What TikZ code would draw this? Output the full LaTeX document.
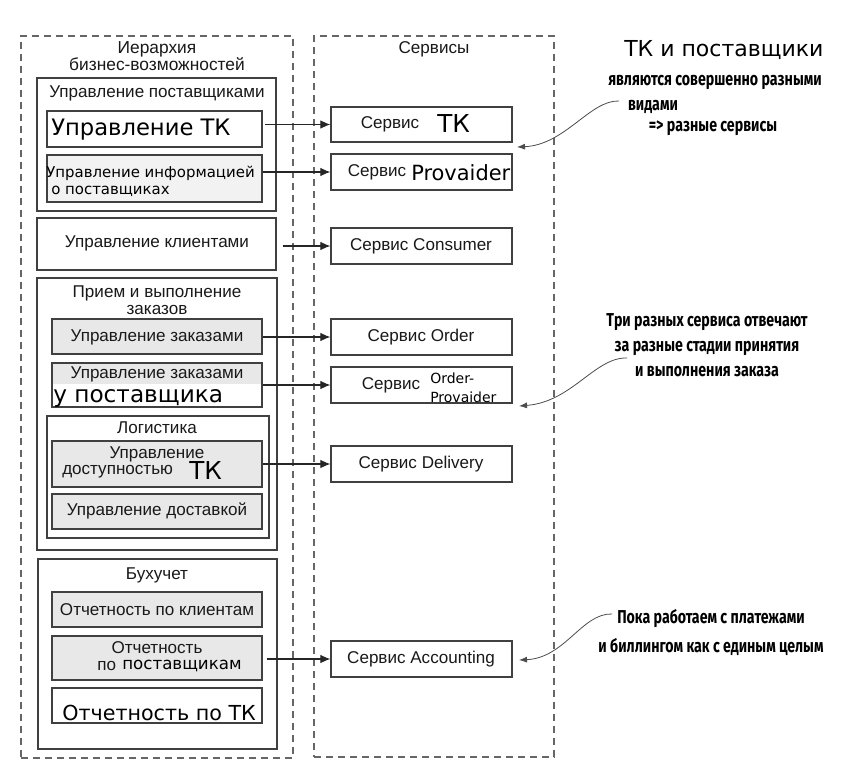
\documentclass[tikz,border=0pt]{standalone}
\usepackage{fontspec}
\setmainfont{Liberation Sans}
\newfontfamily\dvfont{DejaVu Sans}
\newfontfamily\annfont[FakeStretch=0.76]{Fira Sans}
\usetikzlibrary{arrows.meta,fit}
\begin{document}
\begin{tikzpicture}[x=0.75pt,y=-0.75pt,
  box/.style={draw=black!75, line width=1pt, inner sep=0pt},
  graybox/.style={box, fill=black!9},
  container/.style={draw=black!60, line width=0.8pt, dash pattern=on 5pt off 4pt, inner sep=0pt},
  lbl/.style={font=\fontsize{12.8}{12.8}\selectfont, text=black!90, inner sep=0pt},
  big/.style={font=\dvfont\fontsize{17}{19}\selectfont, text=black, inner sep=0pt},
  mid/.style={font=\dvfont\fontsize{11.2}{13.5}\selectfont, text=black, inner sep=0pt},
  note/.style={font=\annfont\bfseries\fontsize{14}{18.75}\selectfont, text=black, inner sep=0pt, align=center},
  conn/.style={-{Latex[length=7.5pt,width=6.5pt]}, line width=0.8pt, draw=black!85},
  notearrow/.style={-{Latex[length=6pt,width=4.5pt]}, line width=0.6pt, draw=black!70},
]
\fill[white] (0,0) rectangle (851,774);
\useasboundingbox (0,0) rectangle (851,774);

% containers
\node[container, fit={(21,36) (293,758)}] (hier) {};
\node[container, fit={(314,36) (554,757)}] (svc) {};
\node[lbl, align=center, font=\fontsize{13}{12.8}\selectfont] (hiert) at (157,56) {Иерархия\\бизнес-возможностей};
\node[lbl] (svct) at (434,49) {Сервисы};

% group: suppliers
\node[box, fit={(37,78) (276,211)}] (gsup) {};
\node[lbl] (gsupt) at (157,93) {Управление поставщиками};
\node[box, fill=white, fit={(47,111) (262,147)}] (lTK) {};
\node[big, anchor=west] (lTKt) at (51,130) {Управление ТК};
\node[box, fill=black!5, fit={(47,155) (262,202)}] (lInfo) {};
\node[mid, anchor=west] (lInfot1) at (46,173) {Управление информацией};
\node[mid, anchor=west] (lInfot2) at (51,191) {о поставщиках};

% clients
\node[box, fit={(37,218) (276,270)}] (lCli) {};
\node[lbl] (lClit) at (157,243) {Управление клиентами};

% group: orders
\node[box, fit={(37,278) (277,550)}] (gord) {};
\node[lbl, align=center] (gordt) at (157,300) {Прием и выполнение\\заказов};
\node[graybox, fit={(52,319) (262,354)}] (lOrd) {};
\node[lbl] (lOrdt) at (157,337) {Управление заказами};
\node[graybox, fit={(52,363) (262,407)}] (lOP) {};
\fill[white] (53,384) rectangle (261,406);
\node[lbl] (lOPt1) at (157,374) {Управление заказами};
\node[big, anchor=west, font=\dvfont\fontsize{17.4}{19}\selectfont] (lOPt2) at (53,398) {у поставщика};

% group: logistics
\node[box, fit={(47,416) (269,538)}] (glog) {};
\node[lbl] (glogt) at (157,428) {Логистика};
\node[graybox, fit={(52,441) (262,487)}] (lAv) {};
\node[lbl] (lAvt1) at (157,454) {Управление};
\node[lbl, anchor=west] (lAvt2) at (62,472) {доступностью};
\node[big, anchor=west, font=\dvfont\fontsize{18.5}{20}\selectfont] (lAvt3) at (189,471) {ТК};
\node[graybox, fit={(52,494) (262,529)}] (lDel) {};
\node[lbl] (lDelt) at (157,511) {Управление доставкой};

% group: accounting
\node[box, fit={(38,559) (277,749)}] (gacc) {};
\node[lbl] (gacct) at (157,575) {Бухучет};
\node[graybox, fit={(52,592) (262,627)}] (lRC) {};
\node[lbl] (lRCt) at (157,610) {Отчетность по клиентам};
\node[graybox, fit={(52,636) (262,680)}] (lRS) {};
\node[lbl] (lRSt1) at (157,648) {Отчетность};
\node[lbl, anchor=west] (lRSt2) at (97,666) {по};
\node[mid, anchor=west, font=\dvfont\fontsize{12.5}{14}\selectfont] (lRSt3) at (122,666) {поставщикам};
\node[box, fill=white, fit={(52,688) (262,723)}] (lRT) {};
\node[big, anchor=west, font=\dvfont\fontsize{15.5}{17}\selectfont] (lRTt) at (62,713) {Отчетность по ТК};

% services
\node[box, fit={(331,107) (512,142)}] (sTK) {};
\node[lbl] (sTKt1) at (390,124) {Сервис};
\node[big, anchor=west, font=\dvfont\fontsize{18.5}{20}\selectfont] (sTKt2) at (437,124) {ТК};
\node[box, fit={(331,154) (512,190)}] (sProv) {};
\node[lbl] (sProvt1) at (377,172) {Сервис};
\node[big, anchor=west, font=\dvfont\fontsize{15.7}{17}\selectfont] (sProvt2) at (411,173) {Provaider};
\node[box, fit={(331,228) (512,264)}] (sCons) {};
\node[lbl] (sConst) at (421,246) {Сервис Consumer};
\node[box, fit={(331,319) (512,355)}] (sOrd) {};
\node[lbl] (sOrdt) at (421,337) {Сервис Order};
\node[box, fit={(331,367) (512,403)}] (sOP) {};
\node[lbl] (sOPt1) at (391,385) {Сервис};
\node[mid, anchor=west, font=\dvfont\fontsize{10.5}{12}\selectfont] (sOPt2) at (430,378) {Order-};
\node[mid, anchor=west, font=\dvfont\fontsize{10.5}{12}\selectfont] (sOPt3) at (430,397) {Provaider};
\node[box, fit={(331,446) (512,482)}] (sDel) {};
\node[lbl] (sDelt) at (421,464) {Сервис Delivery};
\node[box, fit={(331,641) (512,677)}] (sAcc) {};
\node[lbl] (sAcct) at (421,659) {Сервис Accounting};

% connectors
\draw[conn, shorten <=2pt] (lTK.east |- sTK.west) -- (sTK.west);
\draw[conn] (lInfo.east |- sProv.west) -- (sProv.west);
\draw[conn, shorten <=4.5pt] (lCli.east |- sCons.west) -- (sCons.west);
\draw[conn] (lOrd.east |- sOrd.west) -- (sOrd.west);
\draw[conn] (lOP.east |- sOP.west) -- (sOP.west);
\draw[conn] (lAv.east |- sDel.west) -- (sDel.west);
\draw[conn, shorten <=3pt] (lRS.east |- sAcc.west) -- (sAcc.west);

% annotations
\node[big, anchor=west, font=\dvfont\fontsize{16.5}{18}\selectfont] (n1t) at (624,50) {ТК и поставщики};
\node[note] (n1a) at (715,82) {являются совершенно разными};
\node[note] (n1b) at (653,107) {видами};
\node[note] (n1c) at (713,128) {=> разные сервисы};
\coordinate (n1s) at (619,101);
\coordinate (n1e) at (517,147);
\draw[notearrow] (n1s) .. controls (590,100) and (565,145) .. (n1e);

\node[note] (n2) at (707,345) {Три разных сервиса отвечают\\за разные стадии принятия\\и выполнения заказа};
\coordinate (n2s) at (627,358);
\coordinate (n2e) at (519,406);
\draw[notearrow] (n2s) .. controls (595,357) and (572,402) .. (n2e);

\node[note, font=\annfont\bfseries\fontsize{14}{21.75}\selectfont] (n3) at (711,632) {Пока работаем с платежами\\и биллингом как с единым целым};
\coordinate (n3s) at (612,614);
\coordinate (n3e) at (519,660);
\draw[notearrow] (n3s) .. controls (582,613) and (565,658) .. (n3e);
\end{tikzpicture}
\end{document}
